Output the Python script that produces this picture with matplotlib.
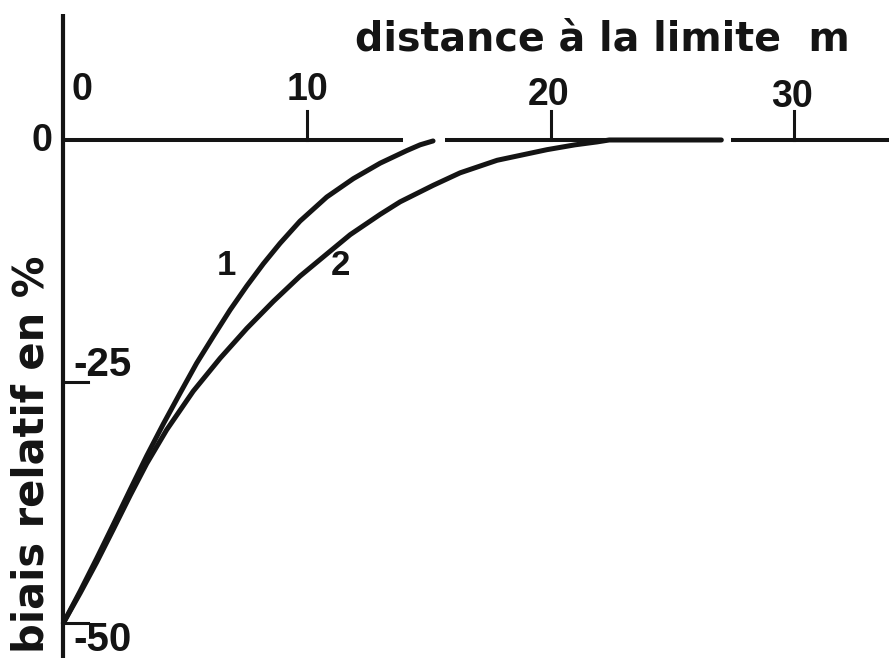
import matplotlib.pyplot as plt

# distance to the limit (m) and relative bias (%)
dist_1 = [0, 0.69, 1.37, 2.05, 2.74, 3.42, 4.10, 4.79, 5.47, 6.16, 6.84, 7.53,
          8.21, 8.89, 9.71, 10.81, 11.90, 13.0, 14.09, 14.64, 15.17]
bias_1 = [-50, -46.7, -43.3, -39.8, -36.2, -32.7, -29.4, -26.2, -23.1, -20.3, -17.6, -15.1,
          -12.8, -10.7, -8.4, -5.9, -4.0, -2.4, -1.1, -0.5, -0.1]

dist_2 = [0, 0.69, 1.37, 2.05, 2.74, 3.42, 4.24, 5.33, 6.43, 7.53, 8.62, 9.71,
          10.81, 11.77, 13.0, 13.82, 15.17, 16.28, 17.80, 19.85, 21.0, 21.9, 22.4, 27.0]
bias_2 = [-50, -46.9, -43.7, -40.3, -36.8, -33.5, -30.0, -26.0, -22.6, -19.5, -16.7, -14.1,
          -11.8, -9.8, -7.7, -6.4, -4.7, -3.4, -2.1, -1.0, -0.5, -0.2, 0, 0]

x_ticks = [10, 20, 30]
x_tick_labels = ["0", "10", "20", "30"]
y_ticks = [-25, -50]
y_tick_labels = ["0", "-25", "-50"]
curve_names = ["1", "2"]

ink = "#141414"
num_font = "Liberation Sans"
word_font = "DejaVu Sans"

fig = plt.figure(figsize=(8.89, 6.58), dpi=100)
ax = fig.add_axes([0, 0, 1, 1])
ax.set_xlim(-2.6, 33.88)
ax.set_ylim(-53.62, 14.49)
ax.axis("off")

# axes drawn by hand, the horizontal one has small gaps like the original
ax.plot([0, 0], [-53.62, 13.05], color=ink, lw=3.0, solid_capstyle="butt")
for x0, x1 in [(0, 13.95), (15.68, 26.95), (27.4, 33.88)]:
    ax.plot([x0, x1], [0, 0], color=ink, lw=2.9, solid_capstyle="butt")
for t in x_ticks:
    ax.plot([t, t], [0, 3.0], color=ink, lw=2.2)
for t in y_ticks:
    ax.plot([0, 1.03], [t, t], color=ink, lw=2.2)

ax.plot(dist_1, bias_1, color=ink, lw=3.6, solid_capstyle="round", solid_joinstyle="round")
ax.plot(dist_2, bias_2, color=ink, lw=3.6, solid_capstyle="round", solid_joinstyle="round")

# tick labels
x_label_pos = [(0.78, 5.19), (10.0, 5.19), (19.92, 4.67), (29.9, 4.46)]
for s, (x, y) in zip(x_tick_labels, x_label_pos):
    ax.text(x, y, s, ha="center", va="center", fontsize=27,
            fontweight="bold", family=num_font, color=ink)

ax.text(-0.86, -0.1, y_tick_labels[0], ha="center", va="center", fontsize=27,
        fontweight="bold", family=num_font, color=ink)
ax.text(0.4, -23.3, y_tick_labels[1], ha="left", va="center", fontsize=29,
        fontweight="bold", family=num_font, color=ink)
ax.text(0.4, -52.85, y_tick_labels[2], ha="left", va="baseline", fontsize=29,
        fontweight="bold", family=num_font, color=ink)

# curve numbers
ax.text(6.69, -13.0, curve_names[0], ha="center", va="center", fontsize=25,
        fontweight="bold", family=num_font, color=ink)
ax.text(11.38, -13.0, curve_names[1], ha="center", va="center", fontsize=25,
        fontweight="bold", family=num_font, color=ink)

# axis titles
ax.text(22.1, 10.37, "distance à la limite  m", ha="center", va="center",
        fontsize=28.5, fontweight="bold", family=word_font, color=ink)
ax.text(-1.3, -32.5, "biais relatif en %", ha="center", va="center",
        rotation=90, fontsize=30, fontweight="bold", family=word_font, color=ink)

fig.savefig("out.png", dpi=100, facecolor="white")
